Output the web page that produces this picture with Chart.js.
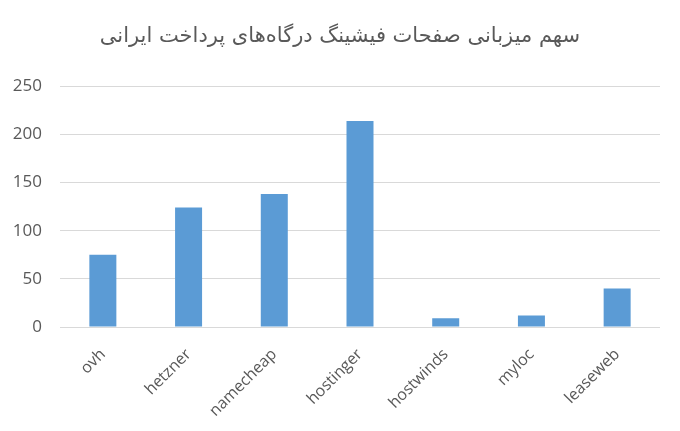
<!DOCTYPE html>
<html>
<head>
<meta charset="utf-8">
<script src="https://cdn.jsdelivr.net/npm/chart.js@4"></script>
<style>
  body { margin: 0; background: #fff; }
  #wrap { width: 680px; height: 431px; }
</style>
</head>
<body>
<div id="wrap"><canvas id="hostChart"></canvas></div>
<script>
const labels = ['ovh', 'hetzner', 'namecheap', 'hostinger', 'hostwinds', 'myloc', 'leaseweb'];
const pageCounts = [75, 124, 138, 214, 9, 12, 40];
const yTicks = [0, 50, 100, 150, 200, 250];
const chartTitle = 'سهم میزبانی صفحات فیشینگ درگاه‌های پرداخت ایرانی';

const ctx = document.getElementById('hostChart').getContext('2d');
const hostChart = new Chart(ctx, {
    type: 'bar',
    data: {
        labels: labels,
        datasets: [{
            label: 'count',
            data: pageCounts,
            backgroundColor: '#5b9bd5',
            borderWidth: 0,
            barPercentage: 0.315,
            categoryPercentage: 1
        }]
    },
    options: {
        responsive: true,
        maintainAspectRatio: false,
        animation: false,
        layout: { padding: 0 },
        scales: {
            y: {
                min: yTicks[0],
                max: yTicks[yTicks.length - 1],
                afterBuildTicks: function(axis) {
                    axis.ticks = yTicks.map(v => ({ value: v }));
                },
                afterFit: function(axis) { axis.width = 60; },
                grid: { color: '#d9d9d9', lineWidth: 1, drawTicks: false },
                border: { display: false },
                ticks: {
                    color: '#595959',
                    padding: 18,
                    font: { family: 'Open Sans, Noto Sans, sans-serif', size: 17 }
                }
            },
            // empty strip on the right so the plot ends at 660
            rightPad: {
                position: 'right',
                afterFit: function(axis) { axis.width = 20; },
                grid: { display: false },
                border: { display: false },
                ticks: { display: false }
            },
            x: {
                afterFit: function(axis) { axis.height = 104; },
                grid: { display: false },
                border: { display: false },
                ticks: {
                    color: '#595959',
                    minRotation: 45,
                    maxRotation: 45,
                    padding: 10,
                    font: { family: 'Open Sans, Noto Sans, sans-serif', size: 16 }
                }
            }
        },
        plugins: {
            legend: { display: false },
            tooltip: { enabled: false },
            title: {
                display: true,
                text: chartTitle,
                color: '#595959',
                padding: { top: 24, bottom: 37 },
                font: { family: 'DejaVu Sans, Noto Sans, sans-serif', size: 21, weight: 'normal' }
            }
        }
    }
});
</script>
</body>
</html>
